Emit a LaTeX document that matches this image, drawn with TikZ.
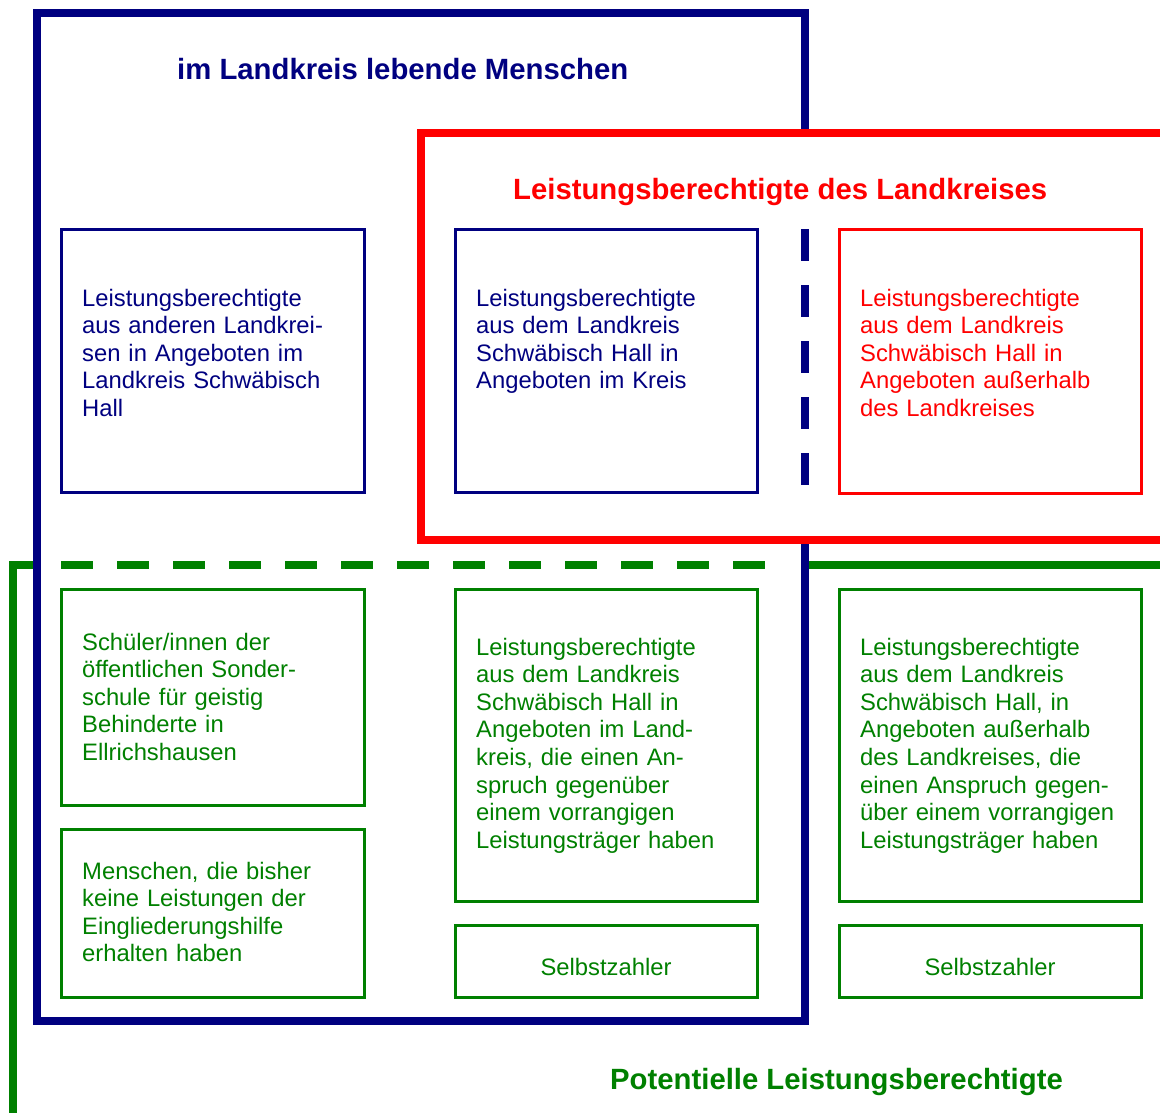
\documentclass[tikz,border=0pt]{standalone}
\usepackage{fontspec}
\setmainfont{Liberation Sans}
\definecolor{navy}{RGB}{0,0,128}
\definecolor{lkred}{RGB}{255,0,0}
\definecolor{lkgreen}{RGB}{0,128,0}
\begin{document}
\begin{tikzpicture}[x=1pt,y=-1pt,
  frame/.style={line width=7.5pt},
  ibox/.style={draw, line width=3pt, outer sep=0pt, inner sep=0pt, anchor=north west},
  btext/.style={anchor=base west, inner sep=0pt, text width=330pt, align=left,
    font=\fontsize{23.8}{27.6}\selectfont},
  ttext/.style={anchor=base west, inner sep=0pt, font=\fontsize{29.3}{34}\selectfont\bfseries}]
\useasboundingbox (0,0) rectangle (1160,1113);
% outer frames
\draw[frame, lkgreen] (1165,565) -- (805,565);
\draw[frame, lkgreen] (37,565) -- (13,565) -- (13,1120);
\draw[frame, lkgreen, dash pattern=on 32pt off 24pt] (61,565) -- (766,565);
\draw[frame, navy] (37,13) rectangle (805,1021);
\draw[frame, lkred, fill=white] (1165,133) -- (421,133) -- (421,540) -- (1165,540);
\draw[line width=8pt, navy, dash pattern=on 32pt off 24pt] (805,229) -- (805,486);
% titles
\node[ttext, navy] (t1) at (177,80) {im Landkreis lebende Menschen};
\node[ttext, lkred] (t2) at (513,200) {Leistungsberechtigte des Landkreises};
\node[ttext, lkgreen] (t3) at (610,1089) {Potentielle Leistungsberechtigte};
% boxes
\node[ibox, navy, minimum width=303pt, minimum height=263pt] (ba) at (61,229) {};
\node[ibox, navy, minimum width=302pt, minimum height=263pt] (bb) at (455,229) {};
\node[ibox, lkred, minimum width=302pt, minimum height=264pt] (bc) at (839,229) {};
\node[ibox, lkgreen, minimum width=303pt, minimum height=216pt] (bd) at (61,589) {};
\node[ibox, lkgreen, minimum width=303pt, minimum height=168pt] (be) at (61,829) {};
\node[ibox, lkgreen, minimum width=302pt, minimum height=312pt] (bf) at (455,589) {};
\node[ibox, lkgreen, minimum width=302pt, minimum height=312pt] (bg) at (839,589) {};
\node[ibox, lkgreen, minimum width=302pt, minimum height=72pt] (bh) at (455,925) {};
\node[ibox, lkgreen, minimum width=302pt, minimum height=72pt] (bi) at (839,925) {};
% texts
\node[btext, navy] (xa) at (82,306) {Leistungsberechtigte\\aus anderen Landkrei-\\sen in Angeboten im\\Landkreis Schwäbisch\\Hall};
\node[btext, navy] (xb) at (476,306) {Leistungsberechtigte\\aus dem Landkreis\\Schwäbisch Hall in\\Angeboten im Kreis};
\node[btext, lkred] (xc) at (860,306) {Leistungsberechtigte\\aus dem Landkreis\\Schwäbisch Hall in\\Angeboten außerhalb\\des Landkreises};
\node[btext, lkgreen] (xd) at (82,650) {Schüler/innen der\\öffentlichen Sonder-\\schule für geistig\\Behinderte in\\Ellrichshausen};
\node[btext, lkgreen] (xe) at (82,879) {Menschen, die bisher\\keine Leistungen der\\Eingliederungshilfe\\erhalten haben};
\node[btext, lkgreen] (xf) at (476,655) {Leistungsberechtigte\\aus dem Landkreis\\Schwäbisch Hall in\\Angeboten im Land-\\kreis, die einen An-\\spruch gegenüber\\einem vorrangigen\\Leistungsträger haben};
\node[btext, lkgreen] (xg) at (860,655) {Leistungsberechtigte\\aus dem Landkreis\\Schwäbisch Hall, in\\Angeboten außerhalb\\des Landkreises, die\\einen Anspruch gegen-\\über einem vorrangigen\\Leistungsträger haben};
\node[anchor=base, inner sep=0pt, lkgreen, font=\fontsize{23.8}{27.6}\selectfont] (xh) at (606,975) {Selbstzahler};
\node[anchor=base, inner sep=0pt, lkgreen, font=\fontsize{23.8}{27.6}\selectfont] (xi) at (990,975) {Selbstzahler};
\end{tikzpicture}
\end{document}
